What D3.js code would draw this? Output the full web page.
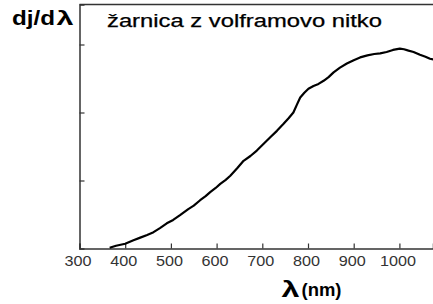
<!DOCTYPE html>
<html><head><meta charset="utf-8">
<script src="https://cdn.jsdelivr.net/npm/d3@7"></script>
<style>body{margin:0;background:#fff}svg{display:block}</style>
</head><body>
<svg id="c" width="433" height="304"></svg>
<script>
const wavelengths = [366, 380, 400, 418, 433, 448, 462, 476, 491, 505, 520, 538, 550, 564, 576, 586, 598, 608, 620, 630, 645, 659, 674, 688, 703, 718, 732, 746, 758, 768, 776, 783, 792, 801, 812, 823, 835, 845, 856, 870, 885, 900, 914, 930, 945, 958, 972, 986, 1001, 1010, 1020, 1031, 1045, 1057, 1067, 1075];
const intensity = [0.01, 0.04, 0.07, 0.12, 0.16, 0.20, 0.24, 0.30, 0.37, 0.42, 0.49, 0.58, 0.63, 0.71, 0.77, 0.83, 0.89, 0.95, 1.01, 1.07, 1.18, 1.29, 1.36, 1.44, 1.54, 1.64, 1.73, 1.83, 1.92, 2.00, 2.12, 2.22, 2.29, 2.35, 2.39, 2.42, 2.47, 2.52, 2.59, 2.66, 2.72, 2.77, 2.81, 2.84, 2.86, 2.87, 2.89, 2.92, 2.94, 2.93, 2.91, 2.89, 2.85, 2.82, 2.79, 2.78];
const xTicks = [300, 400, 500, 600, 700, 800, 900, 1000];
const yTicks = [1, 2, 3];
const yLabelMain = "dj/d";
const yLabelSym = "λ";
const title = "žarnica z volframovo nitko";
const xLabelSym = "λ";
const xLabelUnit = "(nm)";

const font = "Liberation Sans, Arial, sans-serif";
const svg = d3.select("#c");
const mLeft = 79.5, mRight = 433, mTop = 4.5, mBottom = 248.5;
const x = d3.scaleLinear().domain([300, 300 + (mRight - mLeft) / 0.457]).range([mLeft, mRight]);
const y = d3.scaleLinear().domain([0, (mBottom - mTop) / 68]).range([mBottom, mTop]);
const axisColor = "#333";

svg.append("line").attr("x1", mLeft).attr("x2", mRight).attr("y1", mTop).attr("y2", mTop)
  .attr("stroke", axisColor).attr("stroke-width", 1.5);

const xAxis = svg.append("g").attr("transform", `translate(0,${mBottom})`)
  .call(d3.axisBottom(x).tickValues(xTicks).tickSize(-5).tickPadding(8).tickFormat(d3.format("d")));
xAxis.select(".domain").attr("stroke", axisColor).attr("stroke-width", 1.5);
xAxis.selectAll(".tick line").attr("stroke", axisColor).attr("stroke-width", 1.2);
xAxis.selectAll(".tick text")
  .attr("fill", "#333").attr("font-family", font).attr("font-size", 14)
  .attr("dx", -2)
  .attr("textLength", d => String(d).length * 9)
  .attr("lengthAdjust", "spacingAndGlyphs");

const yAxis = svg.append("g").attr("transform", `translate(${mLeft},0)`)
  .call(d3.axisLeft(y).tickValues(yTicks).tickSize(-5).tickFormat(""));
yAxis.select(".domain").attr("stroke", axisColor).attr("stroke-width", 1.5);
yAxis.selectAll(".tick line").attr("stroke", axisColor).attr("stroke-width", 1.2);

const pts = wavelengths.map((w, i) => [w, intensity[i]]);
svg.append("path").datum(pts)
  .attr("fill", "none").attr("stroke", "#000").attr("stroke-width", 2.2)
  .attr("stroke-linejoin", "round")
  .attr("d", d3.line().x(d => x(d[0])).y(d => y(d[1])));

// y label
svg.append("text").attr("x", 12).attr("y", 24.5).text(yLabelMain)
  .attr("font-family", font).attr("font-weight", "bold").attr("font-size", 20)
  .attr("textLength", 43).attr("lengthAdjust", "spacingAndGlyphs");
svg.append("text").attr("x", 56.5).attr("y", 24.5).text(yLabelSym)
  .attr("font-family", font).attr("font-weight", "bold").attr("font-size", 20)
  .attr("textLength", 17).attr("lengthAdjust", "spacingAndGlyphs");

svg.append("text").attr("x", 107).attr("y", 27).text(title)
  .attr("font-family", font).attr("font-size", 17.5).attr("fill", "#000")
  .attr("stroke", "#000").attr("stroke-width", 0.25)
  .attr("textLength", 275).attr("lengthAdjust", "spacingAndGlyphs");

svg.append("text").attr("x", 281.5).attr("y", 296.5).text(xLabelSym)
  .attr("font-family", font).attr("font-weight", "bold").attr("font-size", 22)
  .attr("textLength", 18).attr("lengthAdjust", "spacingAndGlyphs");
svg.append("text").attr("x", 301.5).attr("y", 296).text(xLabelUnit)
  .attr("font-family", font).attr("font-weight", "bold").attr("font-size", 19)
  .attr("textLength", 40).attr("lengthAdjust", "spacingAndGlyphs");
</script>
</body></html>
